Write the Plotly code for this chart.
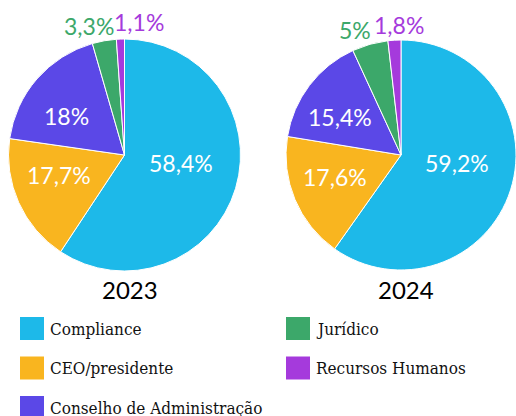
import math
import plotly.graph_objects as go

categories = ["Compliance", "CEO/presidente", "Conselho de Administração", "Jurídico", "Recursos Humanos"]
values_2023 = [58.4, 17.7, 18.0, 3.3, 1.1]
values_2024 = [59.2, 17.6, 15.4, 5.0, 1.8]
years = ["2023", "2024"]
colors = ["#1DB9E9", "#F9B51F", "#5B48E7", "#3CA86A", "#A53ADC"]
legend_order = ["Compliance", "Jurídico", "CEO/presidente", "Recursos Humanos", "Conselho de Administração"]

W, H = 516, 416

def fmt(v):
    return f"{v:g}".replace(".", ",") + "%"

inside = [True, True, True, False, False]
# pie geometry in pixels (centre x, centre y from top, radius)
pies = [(124.5, 155.0, 116.0), (402.0, 155.0, 116.0)]
# label placement: inside labels at 0.6 r, outside labels at r, plus small nudges (pixels)
label_nudges = [
    [(-10, -12), (-2, -8.5), (-5, 7), (-15, -14.5), (19, -17.5)],
    [(-11, -13), (-3, -5), (-7, 4.5), (-16, -13.5), (4, -14.5)],
]

fig = go.Figure()
annotations = []
for k, vals in enumerate([values_2023, values_2024]):
    cx, cy, r = pies[k]
    x1 = min(cx + r, W)
    dom = dict(x=[(cx - r) / W, x1 / W], y=[(H - cy - r) / H, (H - cy + r) / H])
    fig.add_trace(go.Pie(
        labels=categories, values=vals, sort=False, direction="clockwise", rotation=0,
        marker=dict(colors=colors, line=dict(color="white", width=1)),
        textinfo="none",
        domain=dom, showlegend=False, hoverinfo="label+percent",
    ))
    total = sum(vals)
    cum = 0.0
    for i, v in enumerate(vals):
        mid = (cum + v / 2) / total * 2 * math.pi
        cum += v
        rho = 0.6 * r if inside[i] else r
        px = cx + rho * math.sin(mid)
        py = cy - rho * math.cos(mid)
        dx, dy = label_nudges[k][i]
        annotations.append(dict(x=(px + dx) / W, y=(H - (py + dy)) / H, xref="paper", yref="paper",
                                text=fmt(v), showarrow=False, xanchor="center", yanchor="middle",
                                font=dict(family="Lato", size=23,
                                          color="white" if inside[i] else colors[i])))

for yr, cx in zip(years, [129.5, 405.5]):
    annotations.append(dict(x=cx / W, y=(H - 289) / H, xref="paper", yref="paper",
                            text=yr, showarrow=False, xanchor="center", yanchor="middle",
                            font=dict(family="Lato", size=24, color="black")))

shapes = []
col_x = [20, 286]
row_y = [328.5, 368, 407.5]
for i, name in enumerate(legend_order):
    r_, c = divmod(i, 2)
    x0 = col_x[c]
    yc = row_y[r_]
    color = colors[categories.index(name)]
    shapes.append(dict(type="rect", xref="paper", yref="paper",
                       x0=x0 / W, x1=(x0 + 24) / W, y0=(H - yc - 11.5) / H, y1=(H - yc + 11.5) / H,
                       fillcolor=color, line=dict(width=0)))
    annotations.append(dict(x=(x0 + 27.5) / W, y=(H - yc) / H, xref="paper", yref="paper",
                            text=name, showarrow=False, xanchor="left", yanchor="middle",
                            font=dict(family="DejaVu Serif Condensed", size=17, color="#111111")))

fig.update_layout(
    width=W, height=H, margin=dict(l=0, r=0, t=0, b=0),
    paper_bgcolor="white", plot_bgcolor="white",
    annotations=annotations, shapes=shapes, showlegend=False,
)
fig.write_html("out.html", config={"displayModeBar": False},
               post_script="document.body.style.margin='0';document.body.style.overflow='hidden';")
